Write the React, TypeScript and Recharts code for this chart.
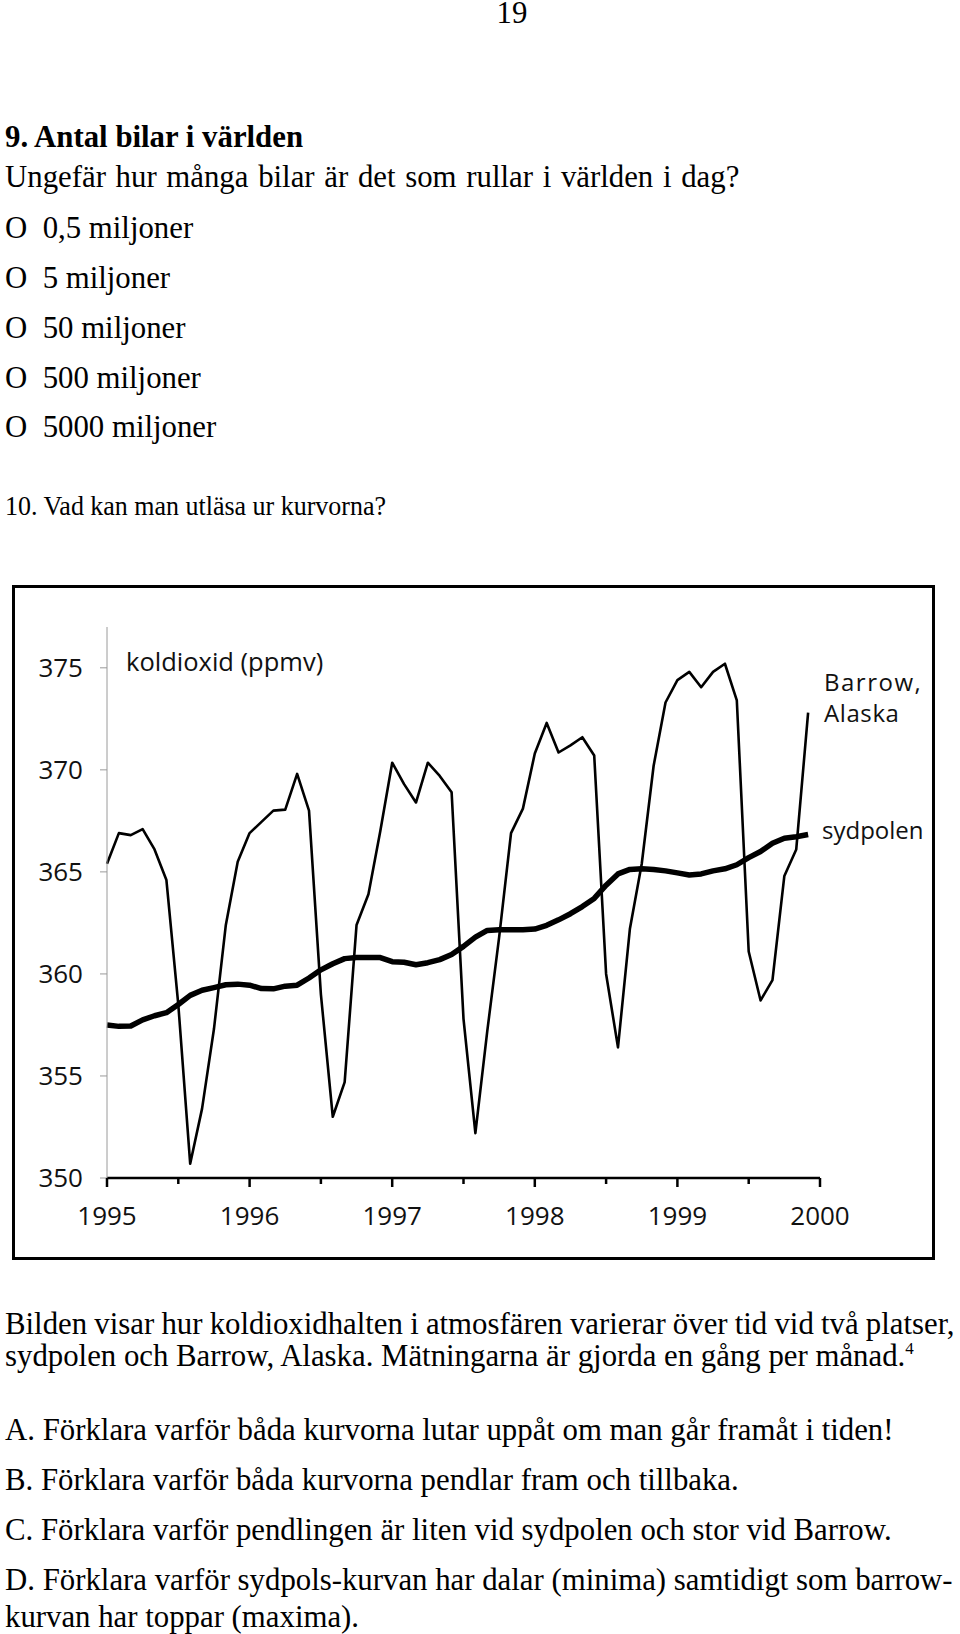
import React from 'react';
import { LineChart, Line, XAxis, YAxis } from 'recharts';

// monthly CO2 (ppmv), Jan..Dec
const YEARS = [1995, 1996, 1997, 1998, 1999];

const barrow1995 = [365.4, 366.9, 366.8, 367.1, 366.1, 364.6, 358.5, 350.7, 353.4, 357.3, 362.4, 365.5];
const barrow1996 = [366.9, 367.45, 368.0, 368.05, 369.8, 368.0, 359.0, 353.0, 354.7, 362.4, 363.9, 367.0];
const barrow1997 = [370.35, 369.3, 368.4, 370.35, 369.7, 368.9, 357.8, 352.2, 357.2, 361.8, 366.9, 368.1];
const barrow1998 = [370.8, 372.3, 370.85, 371.2, 371.6, 370.7, 360.0, 356.4, 362.2, 365.4, 370.2, 373.3];
const barrow1999 = [374.4, 374.8, 374.05, 374.8, 375.2, 373.4, 361.1, 358.7, 359.7, 364.8, 366.1, 372.8];

const sydpolen1995 = [357.5, 357.43, 357.45, 357.75, 357.95, 358.1, 358.5, 358.95, 359.2, 359.33, 359.47, 359.5];
const sydpolen1996 = [359.45, 359.28, 359.27, 359.4, 359.45, 359.8, 360.2, 360.5, 360.75, 360.8, 360.8, 360.8];
const sydpolen1997 = [360.6, 360.57, 360.45, 360.55, 360.7, 360.95, 361.35, 361.8, 362.13, 362.16, 362.16, 362.16];
const sydpolen1998 = [362.2, 362.38, 362.65, 362.95, 363.3, 363.7, 364.35, 364.9, 365.12, 365.15, 365.12, 365.05];
const sydpolen1999 = [364.95, 364.85, 364.9, 365.05, 365.15, 365.35, 365.7, 366.0, 366.4, 366.65, 366.72, 366.83];

const BARROW = [barrow1995, barrow1996, barrow1997, barrow1998, barrow1999];
const SYDPOLEN = [sydpolen1995, sydpolen1996, sydpolen1997, sydpolen1998, sydpolen1999];

const X_TICKS = [1995, 1995.5, 1996, 1996.5, 1997, 1997.5, 1998, 1998.5, 1999, 1999.5, 2000];
const Y_TICKS = [350, 355, 360, 365, 370, 375];

const data = YEARS.flatMap((year, y) =>
  BARROW[y].map((v, m) => ({ t: year + m / 12, barrow: v, sydpolen: SYDPOLEN[y][m] }))
);

const SANS = '"Open Sans", sans-serif';
const SERIF = '"Liberation Serif", "Times New Roman", serif';
const BODY = 30.8;

function YearTick(props: any) {
  const { x, y, payload } = props;
  const major = Number.isInteger(payload.value);
  return (
    <g>
      <line x1={x} y1={y} x2={x} y2={y + (major ? 9 : 6)} stroke="#000" strokeWidth={2.5} />
      {major && (
        <text x={x} y={y + 46.5} textAnchor="middle" fill="#111" fontSize={26} fontFamily={SANS}>
          {payload.value}
        </text>
      )}
    </g>
  );
}

const pageText: { y: number; text: string; bold?: boolean; ws?: number; len?: number; size?: number }[] = [
  { y: 147, text: '9. Antal bilar i världen', bold: true },
  { y: 187, text: 'Ungefär hur många bilar är det som rullar i världen i dag?', ws: 2 },
  { y: 238, text: 'O  0,5 miljoner' },
  { y: 288, text: 'O  5 miljoner' },
  { y: 338, text: 'O  50 miljoner' },
  { y: 388, text: 'O  500 miljoner' },
  { y: 437, text: 'O  5000 miljoner' },
  { y: 515, text: '10. Vad kan man utläsa ur kurvorna?', size: 27.5, len: 381 },
  { y: 1334, text: 'Bilden visar hur koldioxidhalten i atmosfären varierar över tid vid två platser,', ws: -0.5 },
  { y: 1440, text: 'A. Förklara varför båda kurvorna lutar uppåt om man går framåt i tiden!' },
  { y: 1490, text: 'B. Förklara varför båda kurvorna pendlar fram och tillbaka.' },
  { y: 1540, text: 'C. Förklara varför pendlingen är liten vid sydpolen och stor vid Barrow.' },
  { y: 1590, text: 'D. Förklara varför sydpols-kurvan har dalar (minima) samtidigt som barrow-' },
  { y: 1627, text: 'kurvan har toppar (maxima).' },
];

export default function App() {
  return (
    <div style={{ position: 'absolute', left: 0, top: 0, width: 960, height: 1634, background: '#fff' }}>
      <div
        style={{
          position: 'absolute', left: 12, top: 585, width: 923, height: 675,
          border: '3px solid #000', boxSizing: 'border-box',
        }}
      />
      <div style={{ position: 'absolute', left: 0, top: 580 }}>
        <LineChart width={960} height={680} data={data} margin={{ top: 47, right: 140, bottom: 32, left: 47 }}>
          <XAxis
            dataKey="t"
            type="number"
            domain={[1995, 2000]}
            ticks={X_TICKS}
            interval={0}
            height={50}
            tickSize={0}
            tickMargin={0}
            tickLine={false}
            axisLine={{ stroke: '#000', strokeWidth: 2.5 }}
            tick={(p: any) => <YearTick {...p} />}
          />
          <YAxis
            type="number"
            domain={[350, 377]}
            ticks={Y_TICKS}
            interval={0}
            width={60}
            tickSize={7}
            tickMargin={17}
            axisLine={{ stroke: '#9a9a9a', strokeWidth: 1 }}
            tickLine={{ stroke: '#9a9a9a', strokeWidth: 1 }}
            tick={{ fill: '#111', fontSize: 26, fontFamily: SANS }}
          />
          <Line dataKey="sydpolen" type="linear" stroke="#000" strokeWidth={5.5} dot={false} isAnimationActive={false} strokeLinejoin="round" />
          <Line dataKey="barrow" type="linear" stroke="#000" strokeWidth={2.6} dot={false} isAnimationActive={false} strokeLinejoin="round" />
        </LineChart>
      </div>
      <svg width={960} height={1634} style={{ position: 'absolute', left: 0, top: 0, pointerEvents: 'none' }}>
        <text x={512} y={23} textAnchor="middle" fontSize={BODY} fontFamily={SERIF} fill="#000">19</text>
        {pageText.map((l) => (
          <text
            key={l.y}
            x={5}
            y={l.y}
            fontSize={l.size ?? BODY}
            fontFamily={SERIF}
            fontWeight={l.bold ? 'bold' : 'normal'}
            fill="#000"
            wordSpacing={l.ws}
            textLength={l.len}
            lengthAdjust={l.len ? 'spacingAndGlyphs' : undefined}
            style={{ whiteSpace: 'pre' }}
          >
            {l.text}
          </text>
        ))}
        <text x={5} y={1366} fontSize={BODY} fontFamily={SERIF} fill="#000">
          sydpolen och Barrow, Alaska. Mätningarna är gjorda en gång per månad.
          <tspan dy={-12} fontSize={17}>4</tspan>
        </text>
        <text x={126} y={670.5} fontSize={25.5} fontFamily={SANS} fill="#111">koldioxid (ppmv)</text>
        <text x={824} y={691} fontSize={24} fontFamily={SANS} fill="#111" letterSpacing={1.5}>Barrow,</text>
        <text x={824} y={722} fontSize={24} fontFamily={SANS} fill="#111" letterSpacing={0.6}>Alaska</text>
        <text x={822} y={839} fontSize={24} fontFamily={SANS} fill="#111">sydpolen</text>
      </svg>
    </div>
  );
}
